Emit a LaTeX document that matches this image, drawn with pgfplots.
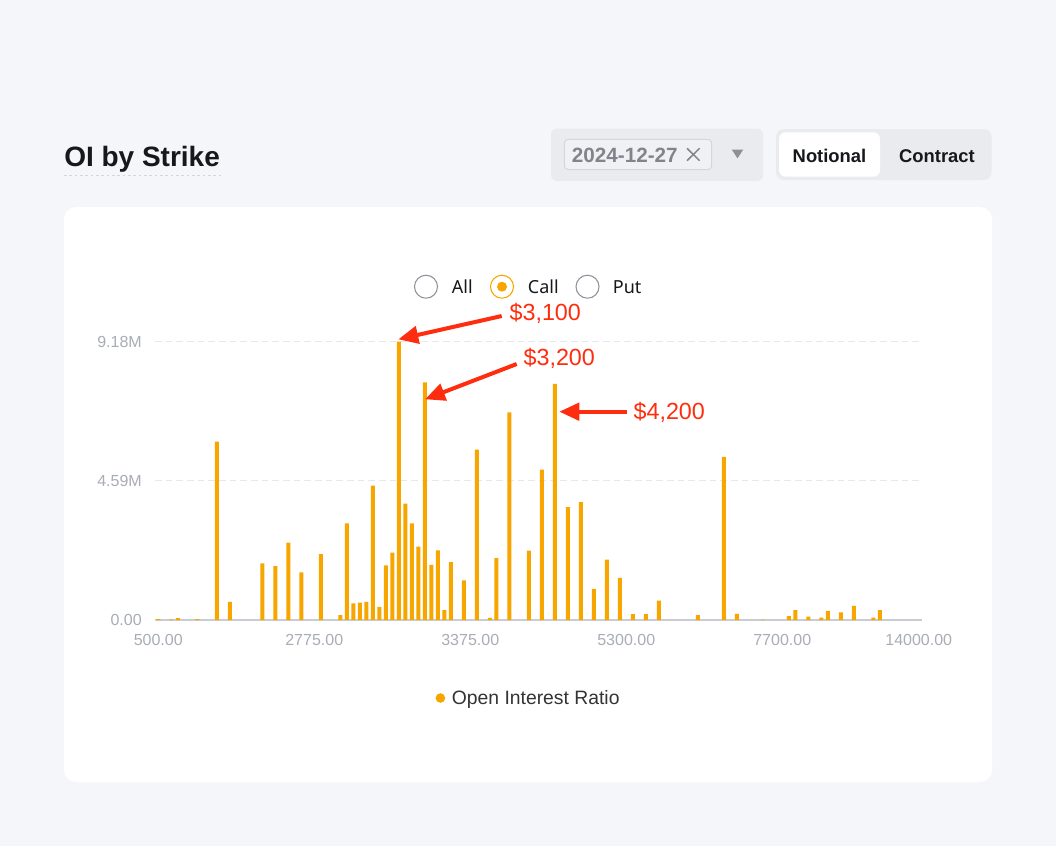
\documentclass[border=0pt]{standalone}
\usepackage{pgfplots}
\pgfplotsset{compat=1.18}
\usepackage{pgfplotstable}
\usepackage{fontspec}
\setmainfont{Liberation Sans}
\newfontfamily\ui{Noto Sans}
\usetikzlibrary{arrows.meta}
\definecolor{bg}{HTML}{F5F6FA}
\definecolor{barc}{HTML}{F7A600}
\definecolor{tickc}{HTML}{A9ADB5}
\definecolor{axisl}{HTML}{C9CCD1}
\definecolor{gridc}{HTML}{E6E8EC}
\definecolor{panel}{HTML}{E9EBEF}
\definecolor{annot}{HTML}{FF2D0F}
\definecolor{ink}{HTML}{16181C}
\definecolor{radiogrey}{HTML}{8E9299}
\definecolor{legtext}{HTML}{333333}
\definecolor{datec}{HTML}{80848B}

\pgfplotstableread{
x y
0 0.03
2 0.02
3 0.06
6 0.03
9 5.88
11 0.60
16 1.87
18 1.78
20 2.55
22 1.57
25 2.17
28 0.16
29 3.19
30 0.55
31 0.57
32 0.60
33 4.43
34 0.43
35 1.80
36 2.22
37 9.18
38 3.84
39 3.19
40 2.42
41 7.84
42 1.82
43 2.30
44 0.33
45 1.91
47 1.31
49 5.62
51 0.07
52 2.04
54 6.85
57 2.29
59 4.96
61 7.79
63 3.72
65 3.89
67 1.03
69 1.99
71 1.39
73 0.19
75 0.19
77 0.64
83 0.16
87 5.38
89 0.20
93 0.01
97 0.13
98 0.33
100 0.11
102 0.08
103 0.30
105 0.25
107 0.47
110 0.08
111 0.33
}\oidata

\begin{document}
\begin{tikzpicture}
\begin{scope}[x=0.75pt,y=-0.75pt]
% background and card
\fill[bg] (0,0) rectangle (1056,846);
\fill[white, rounded corners=9pt] (64,207) rectangle (992,782);
% title
\node[anchor=base west, inner sep=0pt, text=ink, font=\bfseries\fontsize{21}{25}\selectfont] at (64,166) {OI by Strike};
\draw[color=axisl!80, dash pattern=on 2pt off 2pt, line width=0.6pt] (64,175.5) -- (221,175.5);
% date dropdown
\fill[panel, rounded corners=4pt] (551,128.5) rectangle (763,181);
\draw[fill=panel!70, draw=axisl!80, line width=0.75pt, rounded corners=3pt] (564.3,139.3) rectangle (711.7,169.7);
\node[anchor=base west, inner sep=0pt, text=datec, font=\bfseries\fontsize{15.5}{18}\selectfont] at (571.7,162.3) {2024-12-27};
\draw[datec, line width=1.1pt] (687,148.3) -- (699.6,160.7) (687,160.7) -- (699.6,148.3);
\fill[datec!90] (731.7,149.5) -- (743.3,149.5) -- (737.5,158.3) -- cycle;
% toggle
\fill[panel, rounded corners=6pt] (776,129) rectangle (991.7,180);
\fill[white, rounded corners=5pt] (779,132.3) rectangle (880,176.7);
\node[anchor=base, inner sep=0pt, text=ink, font=\bfseries\fontsize{13.8}{16}\selectfont] at (829.5,162.3) {Notional};
\node[anchor=base, inner sep=0pt, text=ink, font=\bfseries\fontsize{13.8}{16}\selectfont] at (937,162.3) {Contract};
% radio buttons
\draw[radiogrey, line width=0.8pt, fill=white] (426,286.7) circle (11.5*0.75pt);
\node[anchor=base west, inner sep=0pt, text=ink, font=\ui\fontsize{13.5}{16}\selectfont] at (451.7,293.3) {All};
\draw[barc, line width=0.8pt, fill=white] (502,286.7) circle (11.5*0.75pt);
\fill[barc] (502,286.7) circle (5*0.75pt);
\node[anchor=base west, inner sep=0pt, text=ink, font=\ui\fontsize{13.5}{16}\selectfont] at (527.7,293.3) {Call};
\draw[radiogrey, line width=0.8pt, fill=white] (587.5,286.7) circle (11.5*0.75pt);
\node[anchor=base west, inner sep=0pt, text=ink, font=\ui\fontsize{13.5}{16}\selectfont] at (612.7,293.3) {Put};
\end{scope}

\begin{axis}[
  at={(116.25pt,-465pt)}, anchor=south west,
  scale only axis, width=575.25pt, height=208.725pt,
  xmin=-0.5, xmax=117.5, ymin=0, ymax=9.18,
  enlargelimits=false, clip=false,
  axis x line*=bottom, axis y line*=left,
  x axis line style={draw=axisl, line width=1.1pt},
  y axis line style={draw=none},
  xtick={0,24,48,72,96,117},
  xticklabels={500.00,2775.00,3375.00,5300.00,7700.00,14000.00},
  ytick={0,4.59,9.18}, yticklabels={0.00,4.59M,9.18M},
  ymajorgrids, grid style={gridc, line width=0.75pt, dash pattern=on 5pt off 3pt},
  major tick length=0pt,
  tick label style={font=\fontsize{12}{14}\selectfont, text=tickc, inner sep=0pt},
  xticklabel style={anchor=center, yshift=-15pt},
  yticklabel style={anchor=east, xshift=-9.75pt},
  ybar, bar width=3pt,
  legend style={at={(axis description cs:0.4875,-0.2803)}, anchor=center, draw=none, fill=none,
    font=\fontsize{14.5}{17}\selectfont, text=legtext, inner sep=0pt},
  legend image code/.code={\fill[barc] (0pt,0pt) circle (3.6pt); \path (6.6pt,0pt);},
]
\addplot[fill=barc, draw=none] table[x=x, y=y] {\oidata};
\addlegendentry{Open Interest Ratio}
\end{axis}

\begin{scope}[x=0.75pt,y=-0.75pt]
\begin{scope}[annot, line width=3pt, -{Triangle[length=15pt, width=13pt]}]
\draw (501.7,316) -- (398.3,339.3);
\draw (516.7,364) -- (425,399.3);
\draw (626.7,411.7) -- (559.3,411.7);
\end{scope}
\node[anchor=base west, inner sep=0pt, text=annot, font=\fontsize{17.5}{20}\selectfont] at (509.3,320) {\$3,100};
\node[anchor=base west, inner sep=0pt, text=annot, font=\fontsize{17.5}{20}\selectfont] at (523.3,365.3) {\$3,200};
\node[anchor=base west, inner sep=0pt, text=annot, font=\fontsize{17.5}{20}\selectfont] at (633.3,419.3) {\$4,200};
\pgfresetboundingbox
\path[use as bounding box] (0,0) rectangle (1056,846);
\end{scope}
\end{tikzpicture}
\end{document}
